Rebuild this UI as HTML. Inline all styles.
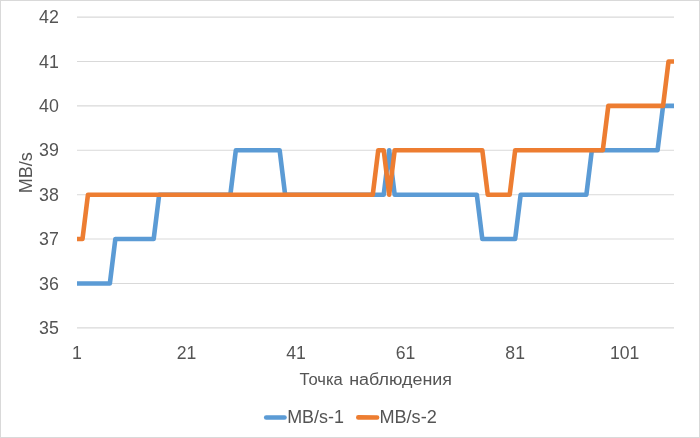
<!DOCTYPE html>
<html lang="ru">
<head>
<meta charset="utf-8">
<title>MB/s</title>
<style>
html,body{margin:0;padding:0;background:#fff;}
body{width:700px;height:438px;overflow:hidden;}
svg{display:block;}
</style>
</head>
<body>
<svg width="700" height="438" viewBox="0 0 700 438">
<rect x="0" y="0" width="700" height="438" fill="#ffffff"/>
<rect x="0.5" y="0.5" width="699" height="437" fill="none" stroke="#d9d9d9" stroke-width="1"/>
<g stroke="#d9d9d9" stroke-width="1.1" fill="none">
<line x1="77.0" y1="17.15" x2="674.0" y2="17.15"/>
<line x1="77.0" y1="61.53" x2="674.0" y2="61.53"/>
<line x1="77.0" y1="105.92" x2="674.0" y2="105.92"/>
<line x1="77.0" y1="150.31" x2="674.0" y2="150.31"/>
<line x1="77.0" y1="194.69" x2="674.0" y2="194.69"/>
<line x1="77.0" y1="239.07" x2="674.0" y2="239.07"/>
<line x1="77.0" y1="283.46" x2="674.0" y2="283.46"/>
<line x1="77.0" y1="327.84" x2="674.0" y2="327.84"/>
</g>
<g fill="none" stroke-width="4.6" stroke-linejoin="round" stroke-linecap="butt">
<polyline stroke="#5b9bd5" points="77.00,283.46 109.86,283.46 115.34,239.07 153.68,239.07 159.16,194.69 230.36,194.69 235.83,150.31 279.65,150.31 285.13,194.69 383.72,194.69 389.19,150.31 394.67,194.69 476.83,194.69 482.30,239.07 515.17,239.07 520.64,194.69 586.37,194.69 591.84,150.31 657.57,150.31 663.05,105.92 674.00,105.92"/>
<polyline stroke="#ed7d31" points="77.00,239.07 82.48,239.07 87.95,194.69 372.76,194.69 378.24,150.31 383.72,150.31 389.19,194.69 394.67,150.31 482.30,150.31 487.78,194.69 509.69,194.69 515.17,150.31 602.80,150.31 608.28,105.92 663.05,105.92 668.52,61.53 674.00,61.53"/>
</g>
<g font-family="'Liberation Sans', sans-serif" font-size="17.8" fill="#545454">
<text x="58.9" y="23.25" text-anchor="end" textLength="19.8" lengthAdjust="spacingAndGlyphs">42</text>
<text x="58.9" y="67.63" text-anchor="end" textLength="19.8" lengthAdjust="spacingAndGlyphs">41</text>
<text x="58.9" y="112.02" text-anchor="end" textLength="19.8" lengthAdjust="spacingAndGlyphs">40</text>
<text x="58.9" y="156.41" text-anchor="end" textLength="19.8" lengthAdjust="spacingAndGlyphs">39</text>
<text x="58.9" y="200.79" text-anchor="end" textLength="19.8" lengthAdjust="spacingAndGlyphs">38</text>
<text x="58.9" y="245.17" text-anchor="end" textLength="19.8" lengthAdjust="spacingAndGlyphs">37</text>
<text x="58.9" y="289.56" text-anchor="end" textLength="19.8" lengthAdjust="spacingAndGlyphs">36</text>
<text x="58.9" y="333.94" text-anchor="end" textLength="19.8" lengthAdjust="spacingAndGlyphs">35</text>
<text x="77.00" y="359.2" text-anchor="middle" textLength="9.9" lengthAdjust="spacingAndGlyphs">1</text>
<text x="186.54" y="359.2" text-anchor="middle" textLength="19.6" lengthAdjust="spacingAndGlyphs">21</text>
<text x="296.08" y="359.2" text-anchor="middle" textLength="19.6" lengthAdjust="spacingAndGlyphs">41</text>
<text x="405.62" y="359.2" text-anchor="middle" textLength="19.6" lengthAdjust="spacingAndGlyphs">61</text>
<text x="515.17" y="359.2" text-anchor="middle" textLength="19.6" lengthAdjust="spacingAndGlyphs">81</text>
<text x="624.71" y="359.2" text-anchor="middle" textLength="29.4" lengthAdjust="spacingAndGlyphs">101</text>
<text x="299.6" y="385.3" font-size="17.3" textLength="43.2" lengthAdjust="spacingAndGlyphs">Точка</text>
<text x="349.2" y="385.3" font-size="17.3" textLength="102.8" lengthAdjust="spacingAndGlyphs">наблюдения</text>
<text transform="translate(32.4,193.3) rotate(-90)" font-size="18.2" textLength="41.2" lengthAdjust="spacingAndGlyphs">MB/s</text>
<text x="287.2" y="423.1" font-size="17.5" textLength="56.8" lengthAdjust="spacingAndGlyphs">MB/s-1</text>
<text x="379.4" y="423.1" font-size="17.5" textLength="57.4" lengthAdjust="spacingAndGlyphs">MB/s-2</text>
</g>
<g fill="none" stroke-width="4.6" stroke-linecap="round">
<line stroke="#5b9bd5" x1="266.2" y1="417.5" x2="284.5" y2="417.5"/>
<line stroke="#ed7d31" x1="358.3" y1="417.4" x2="377.1" y2="417.5"/>
</g>
</svg>
</body>
</html>
